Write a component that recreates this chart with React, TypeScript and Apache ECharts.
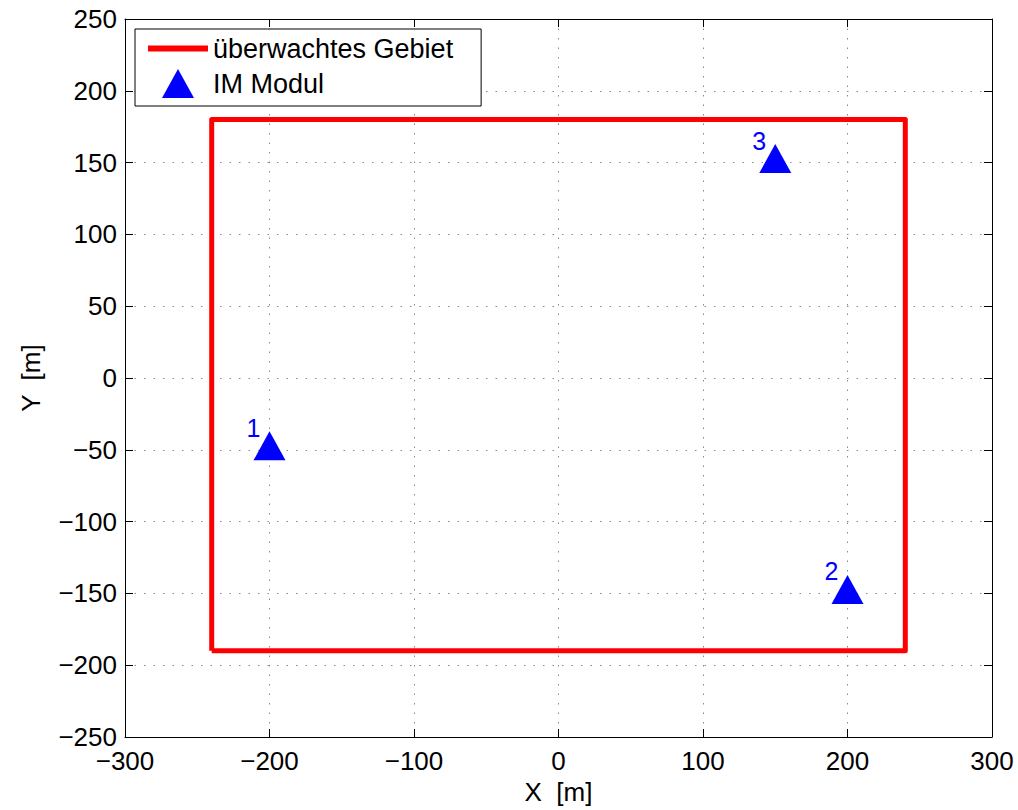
import React, { useEffect, useRef } from "react";
import * as echarts from "echarts";

const areaX = [-240, -240, 240, 240, -240];
const areaY = [-190, 180, 180, -190, -190];
const moduleNames = ["1", "2", "3"];
const moduleX = [-200, 200, 150];
const moduleY = [-50, -150, 150];
const xTicks = [-300, -200, -100, 0, 100, 200, 300];
const yTicks = [-250, -200, -150, -100, -50, 0, 50, 100, 150, 200, 250];

const FONT = "'Liberation Sans', Arial, Helvetica, sans-serif";
const fmt = (v: number) => String(v).replace("-", "\u2212");

export default function App() {
  const ref = useRef<HTMLDivElement>(null);
  useEffect(() => {
    if (!ref.current) return;
    const chart = echarts.init(ref.current, null, { renderer: "svg" });
    const gridLine = { show: true, lineStyle: { color: "#8a8a8a", type: [1.5, 8] as any, width: 1 } };
    const axisCommon = {
      type: "value" as const,
      axisLine: { show: true, onZero: false, lineStyle: { color: "#000", width: 1 } },
      axisTick: { show: true, inside: true, length: 8, lineStyle: { color: "#000" } },
    };
    chart.setOption({
      animation: false,
      backgroundColor: "#fff",
      grid: { left: 125, top: 19, right: 26, bottom: 69, containLabel: false },
      legend: {
        orient: "vertical",
        left: 135,
        top: 29,
        padding: [6, 28, 8, 13],
        itemWidth: 60,
        itemHeight: 29,
        itemGap: 7,
        backgroundColor: "#fff",
        borderColor: "#000",
        borderWidth: 1,
        borderRadius: 0,
        symbolKeepAspect: true,
        textStyle: { fontFamily: FONT, fontSize: 27, color: "#000" },
        data: [
          { name: "überwachtes Gebiet", icon: "path://M0,0 H60 V6 H0 Z", itemStyle: { color: "#ff0000" } },
          { name: "IM Modul", icon: "path://M16,0 L32,29 L0,29 Z", itemStyle: { color: "#0000ff" } },
        ],
      },
      xAxis: [
        {
          ...axisCommon,
          position: "bottom",
          min: xTicks[0],
          max: xTicks[xTicks.length - 1],
          interval: xTicks[1] - xTicks[0],
          name: "X  [m]",
          nameLocation: "middle",
          nameGap: 42,
          nameTextStyle: { fontFamily: FONT, fontSize: 26, color: "#000" },
          axisLabel: { fontFamily: FONT, fontSize: 26, color: "#000", margin: 11, formatter: (v: number) => fmt(v) },
          splitLine: gridLine,
        },
        {
          ...axisCommon,
          position: "top",
          min: xTicks[0],
          max: xTicks[xTicks.length - 1],
          interval: xTicks[1] - xTicks[0],
          axisLabel: { show: false },
          splitLine: { show: false },
        },
      ],
      yAxis: [
        {
          ...axisCommon,
          position: "left",
          min: yTicks[0],
          max: yTicks[yTicks.length - 1],
          interval: yTicks[1] - yTicks[0],
          name: "Y  [m]",
          nameLocation: "middle",
          nameGap: 81,
          nameTextStyle: { fontFamily: FONT, fontSize: 26, color: "#000" },
          axisLabel: { fontFamily: FONT, fontSize: 26, color: "#000", margin: 8, formatter: (v: number) => fmt(v) },
          splitLine: gridLine,
        },
        {
          ...axisCommon,
          position: "right",
          min: yTicks[0],
          max: yTicks[yTicks.length - 1],
          interval: yTicks[1] - yTicks[0],
          axisLabel: { show: false },
          splitLine: { show: false },
        },
      ],
      series: [
        {
          name: "überwachtes Gebiet",
          type: "line",
          data: areaX.map((x, i) => [x, areaY[i]]),
          symbol: "none",
          lineStyle: { color: "#ff0000", width: 5, join: "round" },
          itemStyle: { color: "#ff0000" },
          z: 2,
        },
        {
          name: "IM Modul",
          type: "scatter",
          data: moduleX.map((x, i) => ({ name: moduleNames[i], value: [x, moduleY[i]] })),
          symbol: "triangle",
          symbolSize: [32, 29],
          symbolOffset: [0, -4],
          itemStyle: { color: "#0000ff", opacity: 1 },
          label: {
            show: true,
            position: "inside",
            offset: [-16, -18],
            formatter: (p: any) => p.name,
            fontFamily: FONT,
            fontSize: 25,
            color: "#0000ff",
          },
          z: 3,
        },
      ],
    });
    return () => chart.dispose();
  }, []);
  return <div ref={ref} style={{ width: 1018, height: 810, position: "absolute", left: 0, top: 0 }} />;
}
